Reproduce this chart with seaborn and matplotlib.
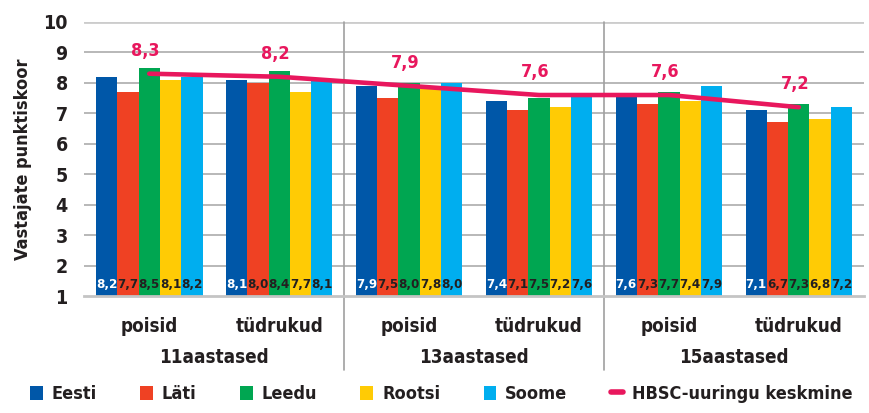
import pandas as pd
import matplotlib.pyplot as plt
import matplotlib.transforms as mtransforms
from matplotlib.lines import Line2D
from matplotlib.patches import Patch
import seaborn as sns

# andmed
groups = ['poisid', 'tüdrukud', 'poisid ', 'tüdrukud ', 'poisid  ', 'tüdrukud  ']
tick_labels = ['poisid', 'tüdrukud', 'poisid', 'tüdrukud', 'poisid', 'tüdrukud']
age_labels = ['11aastased', '13aastased', '15aastased']
countries = ['Eesti', 'Läti', 'Leedu', 'Rootsi', 'Soome']
eesti = [8.2, 8.1, 7.9, 7.4, 7.6, 7.1]
lati = [7.7, 8.0, 7.5, 7.1, 7.3, 6.7]
leedu = [8.5, 8.4, 8.0, 7.5, 7.7, 7.3]
rootsi = [8.1, 7.7, 7.8, 7.2, 7.4, 6.8]
soome = [8.2, 8.1, 8.0, 7.6, 7.9, 7.2]
hbsc = [8.3, 8.2, 7.9, 7.6, 7.6, 7.2]
colors = ['#0057A8', '#EF4123', '#00A651', '#FFCB05', '#00AEEF']
line_color = '#E8175D'

df = pd.DataFrame({
    'group': groups * 5,
    'country': [c for c in countries for _ in groups],
    'value': eesti + lati + leedu + rootsi + soome,
})

sns.set_style('white')
plt.rcParams['font.family'] = ['DejaVu Sans']
plt.rcParams['font.stretch'] = 'condensed'
plt.rcParams['font.weight'] = 'bold'
plt.rcParams['axes.labelweight'] = 'bold'
text_col = '#231F20'

fig = plt.figure(figsize=(8.69, 4.13), dpi=100)
ax = fig.add_axes([0.097, 0.283, 0.897, 0.664])

# ruudustik
for v in range(2, 10):
    ax.axhline(v, color='#ababab', lw=1.2, zorder=0)
ax.axhline(10, color='#cccccc', lw=2, zorder=0)

sns.barplot(data=df, x='group', y='value', hue='country', order=groups,
            hue_order=countries, palette=colors, width=0.82, saturation=1,
            linewidth=0, ax=ax, legend=False, zorder=2)

ax.set_ylim(1, 10)
ax.set_xlim(-0.5, 5.5)
ax.set_yticks(range(1, 11))
ax.tick_params(axis='y', labelsize=14, colors=text_col, length=0, pad=12)
ax.set_xticks(range(6))
ax.set_xticklabels(tick_labels, fontsize=13.5, color=text_col)
ax.tick_params(axis='x', length=0, pad=15)
ax.set_xlabel('')
ax.set_ylabel('Vastajate punktiskoor', fontsize=13, color=text_col, labelpad=8)
for s in ['top', 'right', 'left']:
    ax.spines[s].set_visible(False)
ax.spines['bottom'].set_color('#c4c4c4')
ax.spines['bottom'].set_linewidth(2)

# väärtused tulpade all
for i, cont in enumerate(ax.containers):
    for p in cont.patches:
        ax.text(p.get_x() + p.get_width() / 2, 1.38, f'{p.get_height():.1f}'.replace('.', ','),
                ha='center', va='center', fontsize=9.5,
                color='white' if i == 0 else text_col, zorder=4)

# HBSC keskmine
sns.lineplot(x=list(range(6)), y=hbsc, color=line_color, lw=3.3, ax=ax, zorder=3)
for x, v in enumerate(hbsc):
    ax.text(x - 0.03, v + 0.75, f'{v:.1f}'.replace('.', ','), ha='center', va='center',
            fontsize=13, color=line_color, zorder=4)

# vanuserühmad ja eraldajad
trans = mtransforms.blended_transform_factory(ax.transData, ax.transAxes)
for k, lab in enumerate(age_labels):
    ax.text(2 * k + 0.5, -0.225, lab, transform=trans, ha='center', va='center',
            fontsize=13.5, color=text_col)
for xv in [1.5, 3.5]:
    ax.plot([xv, xv], [-0.27, 1.0], transform=trans, color='#a0a0a0', lw=1.2,
            clip_on=False, zorder=1)

handles = [Patch(facecolor=c, edgecolor='none') for c in colors]
handles.append(Line2D([0], [0], color=line_color, lw=4, solid_capstyle='round'))
fig.legend(handles, countries + ['HBSC-uuringu keskmine'], loc='lower center',
           bbox_to_anchor=(0.508, -0.015), ncol=6, frameon=False, fontsize=13,
           handlelength=0.7, handleheight=0.8, handletextpad=0.5, columnspacing=2.4,
           labelcolor=text_col)

fig.savefig('out.png', dpi=100)
